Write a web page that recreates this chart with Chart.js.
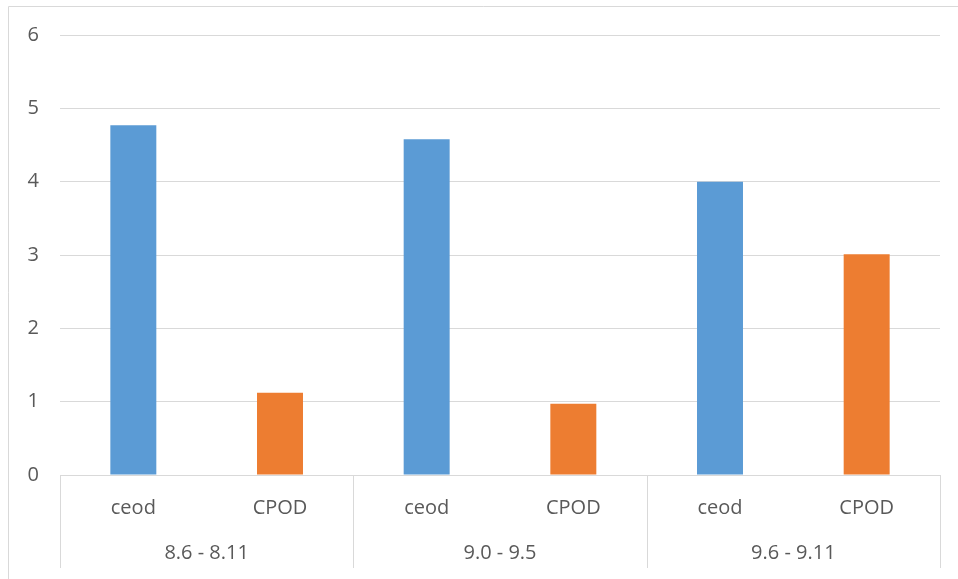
<!DOCTYPE html>
<html>
<head>
<meta charset="utf-8">
<style>
  html, body { margin: 0; padding: 0; background: #ffffff; }
  #wrap { width: 958px; height: 579px; position: relative; }
</style>
<script src="https://cdn.jsdelivr.net/npm/chart.js@4/dist/chart.umd.min.js"></script>
</head>
<body>
<div id="wrap"><canvas id="chart" width="958" height="579"></canvas></div>
<script>
// Sub-categories (one per bar) and the period each pair belongs to
const subLabels = ['ceod', 'CPOD', 'ceod', 'CPOD', 'ceod', 'CPOD'];
const groupLabels = ['8.6 - 8.11', '9.0 - 9.5', '9.6 - 9.11'];
const values = [4.77, 1.12, 4.58, 0.97, 4.0, 3.01];
const yTicks = [0, 1, 2, 3, 4, 5, 6];

const seriesColors = { ceod: '#5B9BD5', CPOD: '#ED7D31' };
const textColor = '#595959';
const lineColor = '#D9D9D9';
const fontSpec = { family: '"Open Sans", sans-serif', size: 20 };

// Frame around the chart and the separators between periods on the axis
const axisDecor = {
  id: 'axisDecor',
  afterDraw(chart) {
    const { ctx, chartArea } = chart;
    const x = chart.scales.x;
    const per = subLabels.length / groupLabels.length;
    ctx.save();
    ctx.strokeStyle = lineColor;
    ctx.lineWidth = 1;
    // chart frame (top and left edges)
    ctx.beginPath();
    ctx.moveTo(8.5, 579);
    ctx.lineTo(8.5, 6.5);
    ctx.lineTo(958, 6.5);
    ctx.stroke();
    // vertical separators between groups, running through both label rows
    const bottom = chart.scales.x2.bottom - 11;
    const edges = [];
    for (let g = 0; g <= groupLabels.length; g++) {
      if (g === 0) edges.push(chartArea.left);
      else if (g === groupLabels.length) edges.push(chartArea.right);
      else {
        const a = x.getPixelForValue(g * per - 1);
        const b = x.getPixelForValue(g * per);
        edges.push((a + b) / 2);
      }
    }
    ctx.beginPath();
    edges.forEach(px => {
      const xx = Math.round(px) + 0.5;
      ctx.moveTo(xx, chartArea.bottom);
      ctx.lineTo(xx, bottom);
    });
    ctx.stroke();
    ctx.restore();
  }
};

new Chart(document.getElementById('chart'), {
  type: 'bar',
  data: {
    labels: subLabels,
    datasets: [{
      data: values,
      backgroundColor: subLabels.map(s => seriesColors[s]),
      borderWidth: 0,
      categoryPercentage: 1,
      barPercentage: 0.3135
    }]
  },
  options: {
    responsive: false,
    animation: false,
    layout: { padding: { top: 35, right: 18, bottom: 0, left: 0 } },
    plugins: { legend: { display: false }, tooltip: { enabled: false } },
    scales: {
      y: {
        min: 0,
        max: 6,
        afterBuildTicks(scale) { scale.ticks = yTicks.map(v => ({ value: v })); },
        afterFit(scale) { scale.width = 60; },
        border: { display: false },
        grid: { color: lineColor, lineWidth: 1, drawTicks: false },
        ticks: { color: textColor, font: fontSpec, padding: 21 }
      },
      x: {
        type: 'category',
        position: 'bottom',
        weight: 0,
        afterFit(scale) { scale.height = 55; },
        border: { display: true, color: lineColor, width: 1 },
        grid: { display: false, drawTicks: false },
        ticks: { color: textColor, font: fontSpec, padding: 21, maxRotation: 0, autoSkip: false }
      },
      x2: {
        type: 'category',
        position: 'bottom',
        weight: 1,
        labels: groupLabels,
        offset: true,
        afterFit(scale) { scale.height = 49; },
        border: { display: false },
        grid: { display: false, drawTicks: false },
        ticks: { color: textColor, font: fontSpec, padding: 11, maxRotation: 0, autoSkip: false }
      }
    }
  },
  plugins: [axisDecor]
});
</script>
</body>
</html>
